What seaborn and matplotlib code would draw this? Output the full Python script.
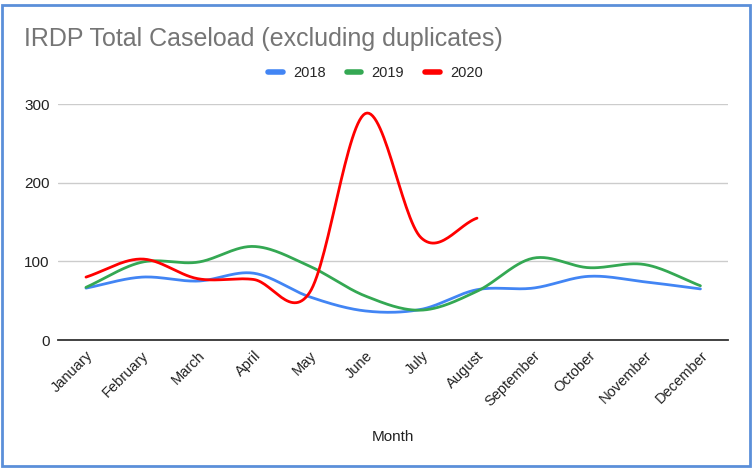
import numpy as np
import pandas as pd
import matplotlib.pyplot as plt
import seaborn as sns
from matplotlib.patches import Rectangle
from matplotlib.lines import Line2D

## Data

months = ["January", "February", "March", "April", "May", "June",
          "July", "August", "September", "October", "November", "December"]
cases_2018 = [66, 80, 75, 85, 55, 37, 39, 64, 66, 81, 74, 65]
cases_2019 = [67, 99, 99, 119, 94, 56, 38, 62, 104, 92, 96, 69]
cases_2020 = [80, 103, 78, 77, 60, 288, 130, 155]

series = {"2018": cases_2018, "2019": cases_2019, "2020": cases_2020}
colors = {"2018": "#4285F4", "2019": "#34A853", "2020": "#FF0000"}


def smooth(values, steps=30):
    """
    Hermite (Catmull-Rom style) curve through the points, like the
    'function' curve type of the original chart.
    """
    y = np.asarray(values, dtype=float)
    n = len(y)
    m = np.zeros(n)
    m[1:-1] = (y[2:] - y[:-2]) / 2
    m[0] = y[1] - y[0]
    m[-1] = y[-1] - y[-2]
    xs, ys = [], []
    for i in range(n - 1):
        t = np.linspace(0, 1, steps, endpoint=(i == n - 2))
        h00 = 2 * t**3 - 3 * t**2 + 1
        h10 = t**3 - 2 * t**2 + t
        h01 = -2 * t**3 + 3 * t**2
        h11 = t**3 - t**2
        xs.append(i + t)
        ys.append(h00 * y[i] + h10 * m[i] + h01 * y[i + 1] + h11 * m[i + 1])
    return np.concatenate(xs), np.concatenate(ys)


frames = []
for year, vals in series.items():
    sx, sy = smooth(vals)
    frames.append(pd.DataFrame({"x": sx, "Cases": sy, "Year": year}))
df = pd.concat(frames, ignore_index=True)

sns.set_theme(style="white")
plt.rcParams["font.family"] = ["Liberation Sans", "DejaVu Sans"]

fig = plt.figure(figsize=(7.54, 4.69), dpi=100)
ax = fig.add_axes([0.077, 0.275, 0.889, 0.503])

sns.lineplot(data=df, x="x", y="Cases", hue="Year", palette=colors,
             estimator=None, sort=False, linewidth=2, ax=ax, legend=False)

ax.set_xlim(-0.5, len(months) - 0.5)
ax.set_ylim(0, 300)
ax.set_yticks([0, 100, 200, 300])
ax.set_yticklabels(["0", "100", "200", "300"], fontsize=11, color="#222222")
ax.set_xticks(range(len(months)))
ax.set_xticklabels(months, rotation=45, ha="right", rotation_mode="anchor",
                   fontsize=10.5, color="#222222")
ax.tick_params(axis="both", length=0, pad=6)
ax.grid(axis="y", color="#cccccc", linewidth=1)
ax.set_axisbelow(True)
for side in ["top", "right", "left"]:
    ax.spines[side].set_visible(False)
ax.spines["bottom"].set_color("#333333")
ax.spines["bottom"].set_linewidth(1.3)
ax.set_ylabel("")
ax.set_xlabel("Month", fontsize=11, color="#222222", labelpad=15)

fig.text(0.032, 0.916, "IRDP Total Caseload (excluding duplicates)",
         fontsize=18, color="#757575", va="center", ha="left")

handles = [Line2D([0], [0], color=colors[y], linewidth=4) for y in series]
fig.legend(handles, list(series), loc="center", bbox_to_anchor=(0.498, 0.845),
           ncol=3, frameon=False, fontsize=10.5, handlelength=1.0,
           columnspacing=1.45, handletextpad=0.7)

# blue frame around the chart
fig.patches.append(Rectangle((0.003, 0.006), 0.992, 0.983, transform=fig.transFigure,
                             fill=False, edgecolor="#5b8fd9", linewidth=2))

fig.savefig("out.png", dpi=100)
